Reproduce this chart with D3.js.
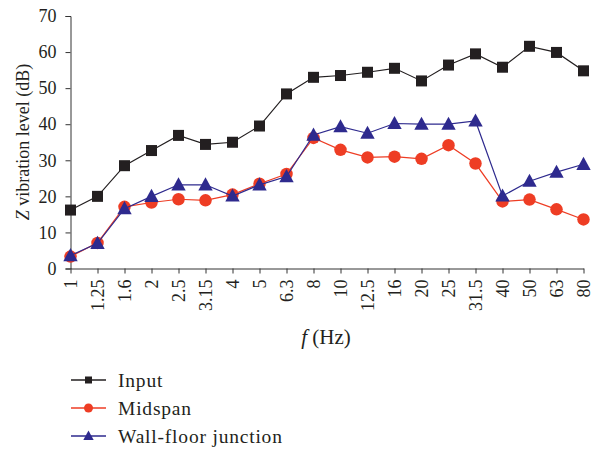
<!DOCTYPE html>
<html>
<head>
<meta charset="utf-8">
<script src="https://cdn.jsdelivr.net/npm/d3@7"></script>
<style>
  html, body { margin: 0; padding: 0; background: #fff; }
  svg { display: block; }
</style>
</head>
<body>
<svg id="chart" width="593" height="449"></svg>
<script>
const categories = ["1","1.25","1.6","2","2.5","3.15","4","5","6.3","8","10","12.5","16","20","25","31.5","40","50","63","80"];
const inputValues = [16.2,20.0,28.5,32.7,36.9,34.4,35.0,39.5,48.4,53.0,53.5,54.4,55.5,52.0,56.4,59.5,55.8,61.6,59.9,54.8];
const midspanValues = [3.3,7.1,17.1,18.3,19.2,18.9,20.5,23.5,26.2,36.2,32.9,30.8,31.0,30.4,34.2,29.1,18.6,19.1,16.4,13.6];
const wallValues = [3.6,7.0,16.6,20.0,23.2,23.2,20.1,23.2,25.5,37.0,39.3,37.5,40.2,40.0,40.0,40.9,20.1,24.2,26.7,28.9];
const yTicks = [0,10,20,30,40,50,60,70];
const seriesNames = ["Input","Midspan","Wall-floor junction"];

const series = [
  {name: seriesNames[0], values: inputValues, color: "#231f20", marker: "square"},
  {name: seriesNames[1], values: midspanValues, color: "#ee3d24", marker: "circle"},
  {name: seriesNames[2], values: wallValues, color: "#2e2a8e", marker: "triangle"}
];

const svg = d3.select("#chart");
const font = "'Liberation Serif', 'DejaVu Serif', serif";
const mLeft = 70.5, mRight = 583.5, mTop = 16, mBottom = 268.5;

const x = d3.scalePoint().domain(categories).range([mLeft, mRight]);
const y = d3.scaleLinear().domain([0, 70]).range([mBottom, mTop]);

// Y axis
const yAxis = svg.append("g").attr("transform", `translate(${mLeft},0)`)
  .call(d3.axisLeft(y).tickValues(yTicks).tickSize(5).tickPadding(9));
yAxis.select(".domain").attr("stroke", "#333");
yAxis.selectAll(".tick line").attr("stroke", "#333");
yAxis.selectAll("text").attr("font-family", font).attr("font-size", 18).attr("fill", "#231f20");

// X axis
const xAxis = svg.append("g").attr("transform", `translate(0,${mBottom})`)
  .call(d3.axisBottom(x).tickSize(5).tickSizeOuter(0).tickPadding(4));
xAxis.select(".domain").attr("stroke", "#333");
xAxis.selectAll(".tick line").attr("stroke", "#333");
xAxis.selectAll("text")
  .attr("font-family", font).attr("font-size", 18).attr("fill", "#231f20")
  .attr("transform", "rotate(-90)")
  .attr("text-anchor", "end")
  .attr("x", -11).attr("y", 0).attr("dy", "0.35em");

// Axis titles
svg.append("text")
  .attr("transform", `translate(28.5,142) rotate(-90)`)
  .attr("text-anchor", "middle")
  .attr("font-family", font).attr("font-size", 18).attr("fill", "#231f20")
  .html("<tspan font-style='italic'>Z</tspan> vibration level (dB)");

svg.append("text")
  .attr("x", 326).attr("y", 344)
  .attr("text-anchor", "middle")
  .attr("font-family", font).attr("font-size", 21).attr("fill", "#231f20")
  .html("<tspan font-style='italic'>f</tspan> (Hz)");

function drawMarker(g, type, cx, cy, size, color) {
  if (type === "square") {
    g.append("rect").attr("x", cx - size / 2).attr("y", cy - size / 2)
      .attr("width", size).attr("height", size).attr("fill", color);
  } else if (type === "circle") {
    g.append("circle").attr("cx", cx).attr("cy", cy).attr("r", size / 2).attr("fill", color);
  } else {
    const w = size * 1.15, h = size;
    g.append("path")
      .attr("d", `M${cx},${cy - h * 0.6}L${cx + w / 2},${cy + h * 0.45}L${cx - w / 2},${cy + h * 0.45}Z`)
      .attr("fill", color);
  }
}

const line = d3.line().x((d, i) => x(categories[i])).y(d => y(d));
const sizes = {square: 11, circle: 12.5, triangle: 12.5};

[series[0], series[1], series[2]].forEach(s => {
  const g = svg.append("g");
  g.append("path").datum(s.values).attr("d", line)
    .attr("fill", "none").attr("stroke", s.color).attr("stroke-width", 1.2);
  s.values.forEach((v, i) => drawMarker(g, s.marker, x(categories[i]), y(v), sizes[s.marker], s.color));
});

// Legend
const legendY = [380, 408, 436];
const legendSizes = {square: 7, circle: 9, triangle: 9};
series.forEach((s, i) => {
  const g = svg.append("g");
  g.append("line").attr("x1", 71).attr("x2", 106).attr("y1", legendY[i]).attr("y2", legendY[i])
    .attr("stroke", s.color).attr("stroke-width", 1.5);
  drawMarker(g, s.marker, 88.5, legendY[i], legendSizes[s.marker], s.color);
  g.append("text").attr("x", 118).attr("y", legendY[i]).attr("dy", "0.35em")
    .attr("font-family", font).attr("font-size", 19.5).attr("letter-spacing", 0.8).attr("fill", "#231f20")
    .text(s.name);
});
</script>
</body>
</html>
